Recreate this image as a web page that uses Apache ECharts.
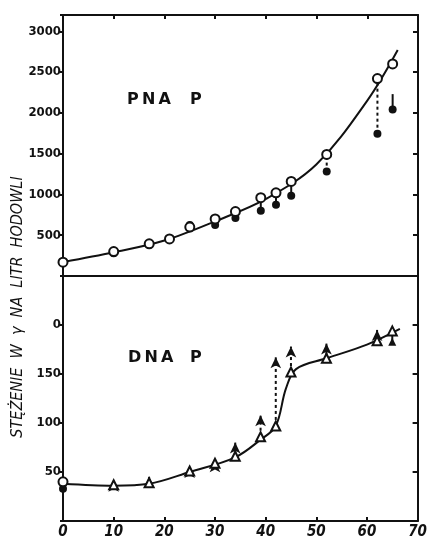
<!DOCTYPE html>
<html>
<head>
<meta charset="utf-8">
<script src="https://cdn.jsdelivr.net/npm/echarts@6/dist/echarts.min.js"></script>
<style>
  html, body { margin: 0; padding: 0; background: #fff; }
  #chart { width: 430px; height: 540px; }
</style>
</head>
<body>
<div id="chart"></div>
<script>
// czas hodowli (os x) i wartosci
var xTicks = [0, 10, 20, 30, 40, 50, 60, 70];

// RNA P - gorny panel
var rnaX = [0, 10, 17, 21, 25, 30, 34, 39, 42, 45, 52, 62, 65];
var rnaOpen = [170, 300, 395, 455, 600, 700, 790, 960, 1020, 1160, 1490, 2420, 2600];
var rnaFilledX = [10, 25, 30, 34, 39, 42, 45, 52, 62, 65];
var rnaFilled = [280, 625, 625, 710, 800, 875, 985, 1280, 1745, 2040];
var rnaStemTop = [300, 600, 700, 790, 960, 1020, 1160, 1490, 2420, 2230];
var rnaCurveX = [0, 10, 20, 30, 40, 50, 60, 66];
var rnaCurveY = [170, 290, 435, 670, 945, 1370, 2150, 2770];

// DNA P - dolny panel
var dnaX = [0, 10, 17, 25, 30, 34, 39, 42, 45, 52, 62, 65];
var dnaOpen = [40, 37, 39, 51, 59, 66, 86, 97, 152, 166, 184, 194];
var dnaFilled = [33, 41, 45, 55, 61, 80, 108, 167, 178, 181, 195, 183];
var dnaCurveX = [0, 10, 17, 25, 34, 39, 42, 44, 46, 52, 60, 66.5];
var dnaCurveY = [38, 36, 38, 50, 65, 83, 97, 135, 155, 166, 180, 196];

function zip(a, b) {
    var out = [];
    for (var i = 0; i < a.length; i++) {
        out.push([a[i], b[i]]);
    }
    return out;
}
function zip3(a, b, c) {
    var out = [];
    for (var i = 0; i < a.length; i++) {
        out.push([a[i], b[i], c[i]]);
    }
    return out;
}

var black = '#111';
var labelFont = 'DejaVu Sans Condensed';

function stemItem(params, api) {
    var p1 = api.coord([api.value(0), api.value(1)]);
    var p2 = api.coord([api.value(0), api.value(2)]);
    var dotted = Math.abs(p1[1] - p2[1]) > 16;
    return {
        type: 'line',
        shape: { x1: p1[0], y1: p1[1], x2: p2[0], y2: p2[1] },
        style: { stroke: black, lineWidth: 2, lineDash: dotted ? [3, 3] : null }
    };
}

function xAxisCfg(grid, pos, showLabel, showTick) {
    return {
        type: 'value', gridIndex: grid, position: pos,
        min: 0, max: 70, interval: 10,
        axisLine: { show: true, onZero: false, lineStyle: { color: black, width: 2 } },
        axisTick: { show: showTick, inside: true, length: 4, lineStyle: { color: black, width: 2 } },
        axisLabel: {
            show: showLabel, margin: 4, color: black,
            fontFamily: labelFont, fontSize: 15, fontStyle: 'italic', fontWeight: 'bold'
        },
        splitLine: { show: false }
    };
}

function yAxisCfg(grid, pos, max, interval, fmt) {
    var left = pos === 'left';
    return {
        type: 'value', gridIndex: grid, position: pos,
        min: 0, max: max, interval: interval,
        axisLine: { show: true, onZero: false, lineStyle: { color: black, width: 2 } },
        axisTick: { show: true, inside: !left, length: left ? 3 : 5, lineStyle: { color: black, width: 2 } },
        axisLabel: {
            show: left, margin: 2, color: black, formatter: fmt,
            fontFamily: labelFont, fontSize: 13, fontWeight: 'bold'
        },
        splitLine: { show: false }
    };
}

var chart = echarts.init(document.getElementById('chart'));

var option = {
    animation: false,
    backgroundColor: '#fff',
    grid: [
        { left: 63, right: 12, top: 15, height: 261 },
        { left: 63, right: 12, top: 276, height: 247 }
    ],
    xAxis: [
        xAxisCfg(0, 'bottom', false, false),
        xAxisCfg(0, 'top', false, true),
        xAxisCfg(1, 'bottom', true, true),
        xAxisCfg(1, 'top', false, false)
    ],
    yAxis: [
        yAxisCfg(0, 'left', 3200, 500, function (v) { return (v > 0 && v <= 3000) ? String(v) : ''; }),
        yAxisCfg(0, 'right', 3200, 500, null),
        yAxisCfg(1, 'left', 250, 50, function (v) {
            if (v === 200) return '0';   // na oryginale widoczne tylko "0"
            return (v > 0 && v < 200) ? String(v) : '';
        }),
        yAxisCfg(1, 'right', 250, 50, null)
    ],
    graphic: [
        {
            type: 'text', x: 127, y: 92,
            style: { text: 'P\u2009N\u2009A', font: 'bold 16px "DejaVu Sans"', fill: black }
        },
        {
            type: 'text', x: 190, y: 92,
            style: { text: 'P', font: 'bold 16px "DejaVu Sans"', fill: black }
        },
        {
            type: 'text', x: 128, y: 350,
            style: { text: 'D\u2009N\u2009A', font: 'bold 16px "DejaVu Sans"', fill: black }
        },
        {
            type: 'text', x: 190, y: 350,
            style: { text: 'P', font: 'bold 16px "DejaVu Sans"', fill: black }
        },
        {
            type: 'text', x: 18, y: 307, rotation: Math.PI / 2,
            style: {
                text: 'STĘŻENIE  W  γ  NA  LITR  HODOWLI',
                font: 'italic 16px "DejaVu Sans Condensed"', fill: black,
                align: 'center', verticalAlign: 'middle'
            }
        }
    ],
    series: [
        {
            type: 'line', xAxisIndex: 0, yAxisIndex: 0,
            data: zip(rnaCurveX, rnaCurveY),
            smooth: 0.35, showSymbol: false,
            lineStyle: { color: black, width: 2 }
        },
        {
            type: 'custom', xAxisIndex: 0, yAxisIndex: 0,
            data: zip3(rnaFilledX, rnaFilled, rnaStemTop),
            renderItem: stemItem, z: 3
        },
        {
            type: 'scatter', xAxisIndex: 0, yAxisIndex: 0,
            data: zip(rnaFilledX, rnaFilled),
            symbol: 'circle', symbolSize: 8,
            itemStyle: { color: black, opacity: 1 }, z: 4
        },
        {
            type: 'scatter', xAxisIndex: 0, yAxisIndex: 0,
            data: zip(rnaX, rnaOpen),
            symbol: 'circle', symbolSize: 9,
            itemStyle: { color: '#fff', borderColor: black, borderWidth: 2, opacity: 1 }, z: 5
        },
        {
            type: 'line', xAxisIndex: 2, yAxisIndex: 2,
            data: zip(dnaCurveX, dnaCurveY),
            smooth: 0.35, showSymbol: false,
            lineStyle: { color: black, width: 2 }
        },
        {
            type: 'custom', xAxisIndex: 2, yAxisIndex: 2,
            data: zip3(dnaX, dnaOpen, dnaFilled),
            renderItem: stemItem, z: 3
        },
        {
            type: 'scatter', xAxisIndex: 2, yAxisIndex: 2,
            data: zip(dnaX, dnaFilled),
            symbol: function (val, params) {
                if (params.dataIndex === 0) return 'circle';
                return val[1] < dnaOpen[params.dataIndex] ? 'triangle' : 'arrow';
            },
            symbolSize: function (val, params) {
                if (params.dataIndex === 0) return 8;
                return val[1] < dnaOpen[params.dataIndex] ? 8 : [8, 11];
            },
            itemStyle: { color: black, opacity: 1 }, z: 4
        },
        {
            type: 'scatter', xAxisIndex: 2, yAxisIndex: 2,
            data: zip(dnaX, dnaOpen),
            symbol: function (val, params) {
                return params.dataIndex === 0 ? 'circle' : 'triangle';
            },
            symbolSize: 9,
            itemStyle: { color: '#fff', borderColor: black, borderWidth: 2, opacity: 1 }, z: 5
        }
    ]
};

chart.setOption(option);
</script>
</body>
</html>
